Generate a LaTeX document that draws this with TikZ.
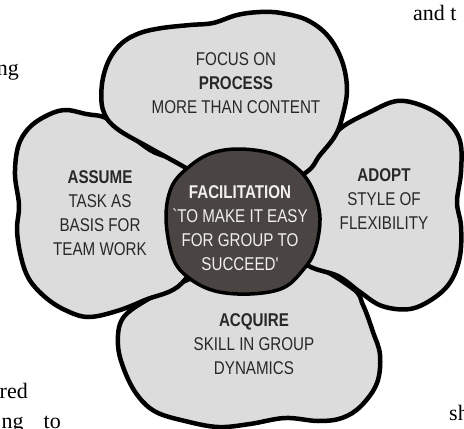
\documentclass[tikz,border=0pt]{standalone}
\usepackage{fontspec}
\newfontfamily\petalfont[FakeStretch=0.82]{Liberation Sans}
\newfontfamily\pageserif{Liberation Serif}
\definecolor{petalfill}{RGB}{220,220,220}
\definecolor{hubfill}{RGB}{74,69,66}
\definecolor{inkdark}{RGB}{40,40,40}
\definecolor{hubtext}{RGB}{240,240,240}
\begin{document}
\begin{tikzpicture}[x=1pt,y=-1pt,
  petal/.style={fill=petalfill,draw=black,line width=4.5pt,line join=round},
  hub/.style={fill=hubfill,draw=black,line width=3.5pt,line join=round},
  petaltext/.style={align=center,text=inkdark,font=\petalfont\fontsize{18.5}{24}\selectfont,inner sep=0pt},
  hubtext/.style={align=center,text=hubtext,font=\petalfont\fontsize{18.5}{24}\selectfont,inner sep=0pt},
  pagetext/.style={text=black,font=\pageserif\fontsize{22}{26}\selectfont,inner sep=0pt}]
\useasboundingbox (0,0) rectangle (464,429);

% surrounding page text, cut by the figure frame
\node[pagetext,anchor=base west] (t1) at (413,20) {and t};
\node[pagetext,anchor=base east] (t2) at (19,75) {ng};
\node[pagetext,anchor=base east] (t3) at (28,398) {red};
\node[pagetext,anchor=base east] (t4) at (61,428) {ng\hspace{20pt}to};
\node[pagetext,anchor=base west] (t5) at (449,420) {sh};

% bottom petal
\path[petal] plot[smooth cycle,tension=0.6] coordinates {
  (180,283) (150,298) (123,318) (118,345) (125,372) (138,396) (156,412)
  (185,421) (218,427) (250,424) (285,418) (318,421) (342,418) (361,406)
  (377,383) (380,355) (373,332) (363,305) (352,288) (303,262) (240,262)};

% left petal
\path[petal] plot[smooth cycle,tension=0.6] coordinates {
  (188,170) (150,150) (110,120) (86,114) (64,110) (44,117) (28,129)
  (18,147) (15,175) (19,205) (17,230) (21,257) (29,279) (45,297)
  (65,310) (88,317) (117,311) (145,300) (182,283) (205,235)};

% right petal
\path[petal] plot[smooth cycle,tension=0.6] coordinates {
  (303,175) (322,150) (341,128) (370,112) (397,101) (423,106) (446,120)
  (460,141) (461,172) (457,202) (461,226) (460,256) (451,281) (434,298)
  (410,309) (382,306) (360,292) (338,276) (303,262) (275,220)};

% top petal
\path[petal] plot[smooth cycle,tension=0.6] coordinates {
  (186,168) (150,148) (116,128) (103,110) (102,84) (109,60) (122,43)
  (140,33) (162,28) (190,25) (213,23) (237,15) (260,12) (281,13)
  (307,20) (328,36) (342,61) (347,90) (342,118) (335,136) (320,155)
  (302,175) (240,200)};

% centre
\path[hub] plot[smooth cycle,tension=0.6] coordinates {
  (240,149) (273,154) (298,169) (313,190) (320,218) (315,250) (303,270)
  (283,288) (250,294) (215,291) (189,278) (173,258) (166,218) (172,186)
  (190,166) (212,153)};

% labels
\node[petaltext] (ptop) at (236,83) {FOCUS ON\\{\bfseries PROCESS}\\MORE THAN CONTENT};
\node[petaltext] (pleft) at (100,213) {{\bfseries ASSUME}\\TASK AS\\BASIS FOR\\TEAM WORK};
\node[petaltext] (pright) at (384,199) {{\bfseries ADOPT}\\STYLE OF\\FLEXIBILITY};
\node[petaltext] (pbottom) at (254,344) {{\bfseries ACQUIRE}\\SKILL IN GROUP\\DYNAMICS};
\node[hubtext] (phub) at (240,228) {{\bfseries FACILITATION}\\`TO MAKE IT EASY\\FOR GROUP TO\\SUCCEED'};
\end{tikzpicture}
\end{document}
